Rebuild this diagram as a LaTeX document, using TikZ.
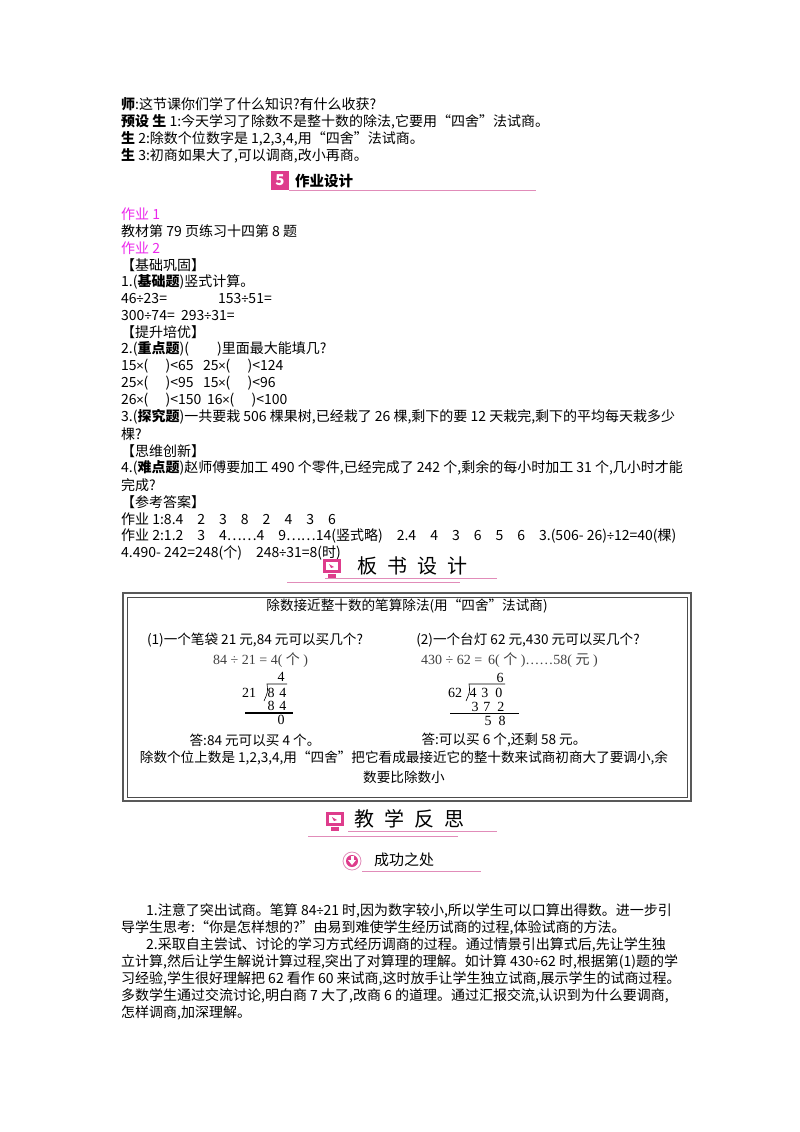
\documentclass[tikz,border=0pt]{standalone}
\usepackage{fontspec}
\setmainfont{Noto Sans CJK SC}
\newfontfamily\cjk{Noto Sans CJK SC}
\newfontfamily\lat{Carlito}
\newfontfamily\serifnum{Liberation Serif}
\newcommand{\tms}{{\lat ×}}
\newcommand{\dvd}{{\lat ÷}}
\definecolor{pk}{RGB}{222,60,140}
\definecolor{pkl}{RGB}{225,140,185}
\definecolor{mg}{RGB}{235,40,235}
\begin{document}
\begin{tikzpicture}[x=1pt,y=-1pt,
  L/.style={anchor=west,inner sep=0pt,font=\fontsize{14}{16}\selectfont},
  C/.style={anchor=center,inner sep=0pt,font=\fontsize{13.6}{16}\selectfont},
  S/.style={anchor=center,inner sep=0pt,font=\serifnum\fontsize{14}{16}\selectfont},
  hd/.style={anchor=west,inner sep=0pt,font=\fontsize{20}{24}\selectfont},
  uline/.style={draw=pkl,line width=1pt}]
\useasboundingbox (0,0) rectangle (800,1132);
% top lines
\node[L] (t1) at (121,104) {\textbf{师}:这节课你们学了什么知识?有什么收获?};
\node[L] (t2) at (121,122) {\textbf{预设\ 生} 1:今天学习了除数不是整十数的除法,它要用“四舍”法试商。};
\node[L] (t3) at (121,139) {\textbf{生} 2:除数个位数字是 1,2,3,4,用“四舍”法试商。};
\node[L] (t4) at (121,156) {\textbf{生} 3:初商如果大了,可以调商,改小再商。};
% header 5
\fill[pk] (271,171) rectangle (289,190);
\node[inner sep=0pt,text=white,font=\bfseries\itshape\fontsize{15}{15}\selectfont] (h5) at (280,180.5) {5};
\node[L,font=\bfseries\fontsize{14.5}{16}\selectfont] (h5t) at (295,181) {作业设计};
\draw[uline] (289,190) -- (536,190);
% homework
\node[L,text=mg] (w1) at (121,214) {作业 1};
\node[L] (w2) at (121,231) {教材第 79 页练习十四第 8 题};
\node[L,text=mg] (w3) at (121,248) {作业 2};
\node[L] (w4) at (121,265) {【基础巩固】};
\node[L] (w5) at (121,282) {1.(\textbf{基础题})竖式计算。};
\node[L] (w6) at (121,299) {46\dvd 23=};
\node[L] (w6b) at (218,299) {153\dvd 51=};
\node[L] (w7) at (121,316) {300\dvd 74=\ \ 293\dvd 31=};
\node[L] (w8) at (121,332) {【提升培优】};
\node[L] (w9) at (121,349) {2.(\textbf{重点题})(\qquad)里面最大能填几?};
\node[L] (w10) at (121,366) {15\tms(\quad\ )<65};
\node[L] (w10b) at (203,366) {25\tms(\quad\ )<124};
\node[L] (w11) at (121,383) {25\tms(\quad\ )<95};
\node[L] (w11b) at (203,383) {15\tms(\quad\ )<96};
\node[L] (w12) at (121,400) {26\tms(\quad\ )<150};
\node[L] (w12b) at (207,400) {16\tms(\quad\ )<100};
\node[L] (w13) at (121,417) {3.(\textbf{探究题})一共要栽 506 棵果树,已经栽了 26 棵,剩下的要 12 天栽完,剩下的平均每天栽多少};
\node[L] (w14) at (121,434) {棵?};
\node[L] (w15) at (121,451) {【思维创新】};
\node[L] (w16) at (121,468) {4.(\textbf{难点题})赵师傅要加工 490 个零件,已经完成了 242 个,剩余的每小时加工 31 个,几小时才能};
\node[L] (w17) at (121,485) {完成?};
\node[L] (w18) at (121,502) {【参考答案】};
\node[L] (w19) at (121,519) {作业 1:8.4\quad 2\quad 3\quad 8\quad 2\quad 4\quad 3\quad 6};
\node[L] (w20) at (121,536) {作业 2:1.2\quad 3\quad 4……4\quad 9……14(竖式略)\quad 2.4\quad 4\quad 3\quad 6\quad 5\quad 6\quad 3.(506- 26)\dvd 12=40(棵)};
\node[L] (w21) at (121,553) {4.490- 242=248(个)\quad 248\dvd 31=8(时)};
% header board
\fill[pk] (323,559) rectangle (341,573);
\fill[white] (326,562) rectangle (338,570);
\fill[pk] (329,564) -- (334,567) -- (331,568) -- cycle;
\fill[pk] (328,574) rectangle (336,578);
\node[hd] (hb) at (357,566) {板\,\,\,书\,\,\,设\,\,\,计};
\draw[uline] (287,582) -- (460,582);
\draw[uline] (325,578) -- (497,578);
% box
\draw[gray!70!black,line width=2pt] (123,593) rectangle (691,801);
\draw[gray!60!black,line width=0.6pt] (127,597) rectangle (687,797);
\node[C] (bt) at (407,606) {除数接近整十数的笔算除法(用“四舍”法试商)};
\node[C] (q1) at (255,640) {(1)一个笔袋 21 元,84 元可以买几个?};
\node[C] (q2) at (528,640) {(2)一个台灯 62 元,430 元可以买几个?};
\node[S,anchor=west,text=black!75] (e1) at (213,660) {84 ÷ 21 = 4( {\cjk 个} )};
\node[S,anchor=west,text=black!75] (e2) at (421,660) {430 ÷ 62 = \,6( {\cjk 个} )……58( {\cjk 元} )};
% division 1
\node[S] (d1q) at (281,677) {4};
\node[S] (d1a) at (249,693) {21};
\node[S] (d1b) at (277,693) {8\,\,4};
\node[S] (d1c) at (277,706) {8\,\,4};
\node[S] (d1r) at (281,720) {0};
\draw[line width=0.6pt] (264,701) .. controls (268,692) .. (267,684) -- (287,684);
\draw[line width=1.4pt] (245,713) -- (293,713);
% division 2
\node[S] (d2q) at (500,678) {6};
\node[S] (d2a) at (455,693) {62};
\node[S] (d2b) at (486,693) {4\,\,3\,\,\,0};
\node[S] (d2c) at (488,707) {3\,\,7\,\,\,2};
\node[S] (d2r) at (495,721) {5\,\,\,8};
\draw[line width=0.6pt] (466,701) .. controls (470,692) .. (469,684) -- (505,684);
\draw[line width=0.8pt] (450,713) -- (519,713);
\node[C] (a1) at (255,740) {答:84 元可以买 4 个。};
\node[C] (a2) at (504,740) {答:可以买 6 个,还剩 58 元。};
\node[C] (bl1) at (404,758) {除数个位上数是 1,2,3,4,用“四舍”把它看成最接近它的整十数来试商初商大了要调小,余};
\node[C] (bl2) at (404,777) {数要比除数小};
% header reflection
\fill[pk] (326,812) rectangle (344,826);
\fill[white] (329,815) rectangle (341,823);
\fill[pk] (332,817) -- (337,820) -- (334,821) -- cycle;
\fill[pk] (331,827) rectangle (339,831);
\node[hd] (hr) at (354,819) {教\,\,\,学\,\,\,反\,\,\,思};
\draw[uline] (308,836) -- (458,836);
\draw[uline] (348,831) -- (497,831);
% success
\draw[pkl,line width=0.8pt] (352,861) circle (9);
\fill[pk] (352,861) circle (6);
\fill[white] (350.5,856) rectangle (353.5,861);
\fill[white] (348,860) -- (356,860) -- (352,865) -- cycle;
\node[L,font=\fontsize{15}{16}\selectfont] (sc) at (374,860) {成功之处};
\draw[uline] (362,871) -- (481,871);
% paragraphs
\node[L] (p1) at (146,911) {1.注意了突出试商。笔算 84\dvd 21 时,因为数字较小,所以学生可以口算出得数。进一步引};
\node[L] (p2) at (121,928) {导学生思考:“你是怎样想的?”由易到难使学生经历试商的过程,体验试商的方法。};
\node[L] (p3) at (146,945) {2.采取自主尝试、讨论的学习方式经历调商的过程。通过情景引出算式后,先让学生独};
\node[L] (p4) at (121,962) {立计算,然后让学生解说计算过程,突出了对算理的理解。如计算 430\dvd 62 时,根据第(1)题的学};
\node[L] (p5) at (121,979) {习经验,学生很好理解把 62 看作 60 来试商,这时放手让学生独立试商,展示学生的试商过程。};
\node[L] (p6) at (121,996) {多数学生通过交流讨论,明白商 7 大了,改商 6 的道理。通过汇报交流,认识到为什么要调商,};
\node[L] (p7) at (121,1013) {怎样调商,加深理解。};
\end{tikzpicture}
\end{document}
